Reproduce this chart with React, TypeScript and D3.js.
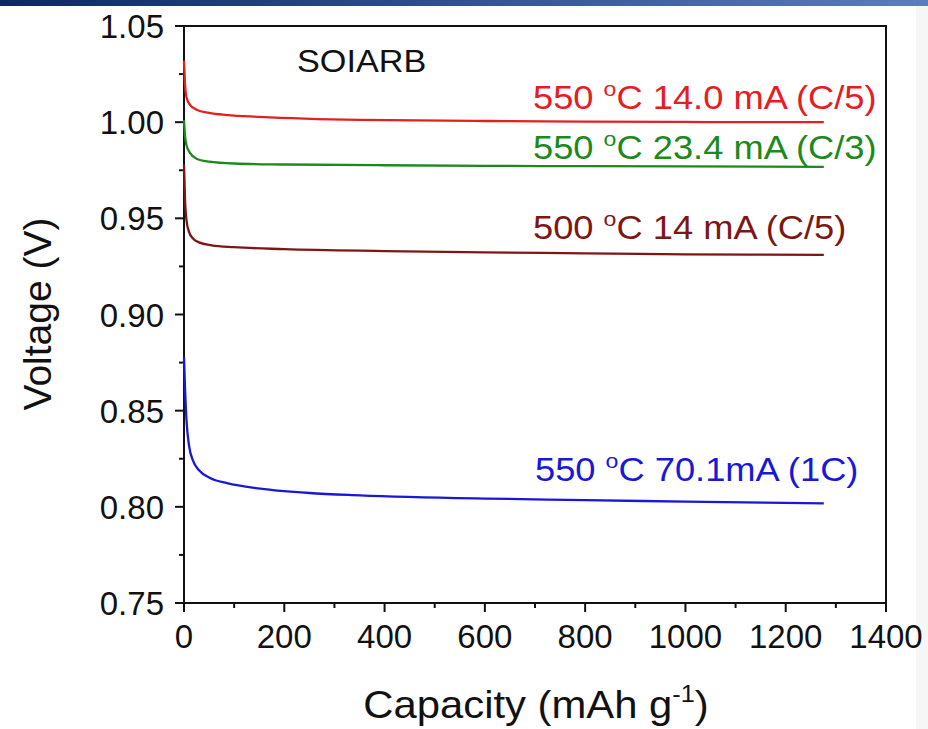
import React from "react";
import * as d3 from "d3";

// Discharge curves: capacity (mAh g-1) and cell voltage (V)
const capRed = [0, 2, 5, 12, 25, 50, 86, 150, 351, 600, 800, 1000, 1276];
const voltRed = [1.032, 1.02, 1.013, 1.009, 1.0065, 1.0048, 1.0037, 1.0028, 1.0012, 1.0006, 1.0003, 1.0001, 1.0];

const capGreen = [0, 2, 5, 12, 25, 50, 100, 200, 400, 600, 800, 1000, 1276];
const voltGreen = [1.001, 0.993, 0.988, 0.984, 0.981, 0.9795, 0.9785, 0.978, 0.9776, 0.9773, 0.9771, 0.977, 0.9768];

const capBrown = [0, 2, 5, 10, 18, 30, 55, 100, 200, 400, 600, 800, 1000, 1276];
const voltBrown = [0.978, 0.96, 0.949, 0.943, 0.9395, 0.9375, 0.936, 0.935, 0.934, 0.933, 0.9323, 0.9318, 0.9313, 0.931];

const capBlue = [0, 2, 5, 10, 18, 30, 52, 86, 152, 250, 351, 600, 800, 1000, 1276];
const voltBlue = [0.878, 0.862, 0.845, 0.832, 0.824, 0.819, 0.815, 0.8123, 0.8095, 0.8072, 0.806, 0.8043, 0.8035, 0.8027, 0.8018];

const seriesLabels = ["550 °C 14.0 mA (C/5)", "550 °C 23.4 mA (C/3)", "500 °C 14 mA (C/5)", "550 °C 70.1mA (1C)"];
const seriesColors = ["#e3201f", "#1b8a1b", "#7e1616", "#1818d6"];
// label anchors in data units (capacity, voltage at baseline)
const labelCap = [696, 696, 696, 700];
const labelVolt = [1.0066, 0.9806, 0.939, 0.8132];

const xTicks = [0, 200, 400, 600, 800, 1000, 1200, 1400];
const yTicks = [0.75, 0.8, 0.85, 0.9, 0.95, 1.0, 1.05];

const W = 928;
const H = 729;
const left = 184;
const right = 886;
const top = 26;
const bottom = 603;

export default function App() {
  const x = d3.scaleLinear().domain([0, 1400]).range([left, right]);
  const y = d3.scaleLinear().domain([0.75, 1.05]).range([bottom, top]);

  const series = [
    { cap: capRed, volt: voltRed },
    { cap: capGreen, volt: voltGreen },
    { cap: capBrown, volt: voltBrown },
    { cap: capBlue, volt: voltBlue },
  ];

  const line = d3
    .line<[number, number]>()
    .x((d) => x(d[0]))
    .y((d) => y(d[1]))
    .curve(d3.curveMonotoneX);

  const xMinor = d3.range(100, 1400, 200);
  const yMinor = d3.range(0.775, 1.05, 0.05);

  const font = "Arial, 'Liberation Sans', Helvetica, sans-serif";
  const stretch = 1.1;

  return (
    <svg
      width={W}
      height={H}
      style={{ position: "absolute", left: 0, top: 0, background: "#fff" }}
      fontFamily={font}
    >
      <defs>
        <linearGradient id="bar" x1="0" x2="1" y1="0" y2="0">
          <stop offset="0" stopColor="#0b2766" />
          <stop offset="1" stopColor="#5b7cbf" />
        </linearGradient>
      </defs>
      <rect x={0} y={0} width={W} height={6} fill="url(#bar)" />
      <rect x={916} y={6} width={12} height={H - 6} fill="#f6f6f6" />

      {/* plot frame */}
      <rect
        x={left}
        y={top}
        width={right - left}
        height={bottom - top}
        fill="none"
        stroke="#111"
        strokeWidth={2}
      />

      {/* y axis ticks */}
      {yTicks.map((t) => (
        <g key={"y" + t}>
          <line x1={left - 9} x2={left} y1={y(t)} y2={y(t)} stroke="#111" strokeWidth={2} />
          <text x={left - 20} y={y(t) + 12} textAnchor="end" fontSize={33} fill="#111">
            {t.toFixed(2)}
          </text>
        </g>
      ))}
      {yMinor.map((t) => (
        <line key={"ym" + t} x1={left - 5} x2={left} y1={y(t)} y2={y(t)} stroke="#111" strokeWidth={2} />
      ))}

      {/* x axis ticks */}
      {xTicks.map((t) => (
        <g key={"x" + t}>
          <line x1={x(t)} x2={x(t)} y1={bottom} y2={bottom + 9} stroke="#111" strokeWidth={2} />
          <text x={x(t)} y={bottom + 45} textAnchor="middle" fontSize={33} fill="#111">
            {t}
          </text>
        </g>
      ))}
      {xMinor.map((t) => (
        <line key={"xm" + t} x1={x(t)} x2={x(t)} y1={bottom} y2={bottom + 5} stroke="#111" strokeWidth={2} />
      ))}

      {/* curves */}
      {series.map((s, i) => (
        <path
          key={"s" + i}
          d={line(s.cap.map((c, j) => [c, s.volt[j]] as [number, number])) || ""}
          fill="none"
          stroke={seriesColors[i]}
          strokeWidth={2.3}
        />
      ))}

      {/* curve labels */}
      {seriesLabels.map((lab, i) => {
        const [pre, post] = lab.split(" °");
        return (
          <text
            key={"l" + i}
            transform={`translate(${x(labelCap[i])},${y(labelVolt[i])}) scale(${stretch},1)`}
            fontSize={33}
            fill={seriesColors[i]}
          >
            {pre + " "}
            <tspan dy={-13} fontSize={21}>o</tspan>
            <tspan dy={13}>{post}</tspan>
          </text>
        );
      })}

      <text transform={`translate(297,72) scale(1.07,1)`} fontSize={32} fill="#111">
        SOIARB
      </text>

      {/* axis titles */}
      <text
        transform={`translate(51, 314) rotate(-90)`}
        textAnchor="middle"
        fontSize={39}
        fill="#111"
      >
        Voltage (V)
      </text>
      <text
        transform={`translate(${(366 + 706) / 2}, 718) scale(1.1,1)`}
        textAnchor="middle"
        fontSize={38}
        fill="#111"
      >
        Capacity (mAh g
        <tspan dy={-16} fontSize={23}>-1</tspan>
        <tspan dy={16}>)</tspan>
      </text>
    </svg>
  );
}
